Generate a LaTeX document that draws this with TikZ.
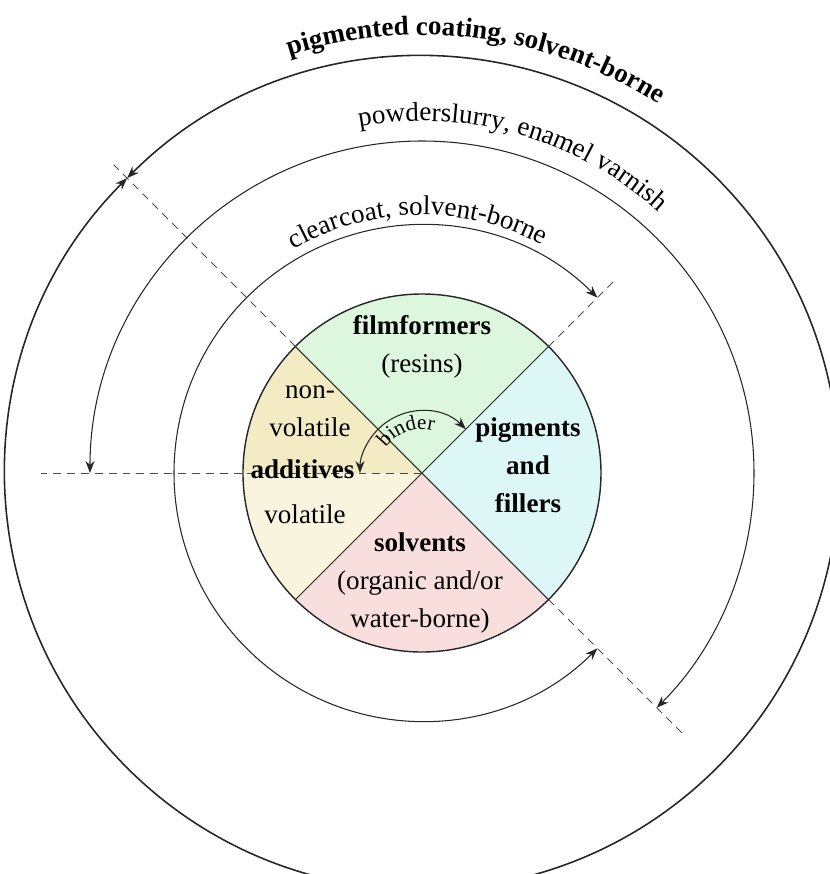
\documentclass[tikz,border=0pt]{standalone}
\usepackage{fontspec}
\setmainfont{Liberation Serif}
\usetikzlibrary{arrows.meta,decorations.text}

\definecolor{filmgreen}{RGB}{221,247,222}
\definecolor{pigmentcyan}{RGB}{220,247,246}
\definecolor{solventpink}{RGB}{248,222,221}
\definecolor{nonvolyellow}{RGB}{242,235,196}
\definecolor{volyellow}{RGB}{249,244,222}

\begin{document}
\begin{tikzpicture}[
    ring/.style={draw=black!85, line width=0.6pt},
    ringarrow/.style={ring, {Stealth[length=2.4mm,width=1.8mm]}-{Stealth[length=2.4mm,width=1.8mm]}},
    cutline/.style={draw=black!70, line width=0.5pt, dash pattern=on 4.5pt off 3.4pt},
    parttext/.style={font=\fontsize{15.4}{21.6}\selectfont, align=center, inner sep=0pt},
    ]
    \useasboundingbox (-8.44,-8.02) rectangle (8.16,9.46);
    \clip (-8.44,-8.02) rectangle (8.16,9.46);

    % sectors of the inner disc
    \fill[filmgreen] (0,0) -- (45:3.58) arc[start angle=45, end angle=135, radius=3.58] -- cycle;
    \fill[nonvolyellow] (0,0) -- (135:3.58) arc[start angle=135, end angle=180, radius=3.58] -- cycle;
    \fill[volyellow] (0,0) -- (180:3.58) arc[start angle=180, end angle=225, radius=3.58] -- cycle;
    \fill[solventpink] (0,0) -- (225:3.58) arc[start angle=225, end angle=315, radius=3.58] -- cycle;
    \fill[pigmentcyan] (0,0) -- (-45:3.58) arc[start angle=-45, end angle=45, radius=3.58] -- cycle;
    \draw[ring] (135:3.58) -- (-45:3.58);
    \draw[ring] (45:3.58) -- (225:3.58);
    \draw[ring, line width=0.8pt] (0,0) circle[radius=3.58];

    % cut lines
    \draw[cutline] (0,0) -- (180:7.62);
    \draw[cutline] (135:3.58) -- (135:8.72);
    \draw[cutline] (45:3.58) -- (45:5.48);
    \draw[cutline] (-45:3.58) -- (-45:7.42);

    % rings
    \draw[ringarrow] (45:1.24) arc[start angle=45, end angle=180, radius=1.24];
    \draw[ringarrow] (45:4.96) arc[start angle=45, end angle=315, radius=4.96];
    \draw[ringarrow] (180:6.64) arc[start angle=180, end angle=-45, radius=6.64];
    \draw[ringarrow, line width=0.9pt] (135:8.34) arc[start angle=135, end angle=-225, radius=8.34];

    % ring labels
    \path[decorate, decoration={text along path, text align=center,
        text={|\fontsize{12}{14}\selectfont|binder}}]
        (170:0.88) arc[start angle=170, end angle=50, radius=0.88];
    \path[decorate, decoration={text along path, text align=center,
        text={|\fontsize{15.4}{18}\selectfont|clearcoat, solvent-borne}}]
        (151:5.16) arc[start angle=151, end angle=31, radius=5.16];
    \path[decorate, decoration={text along path, text align=center,
        text={|\fontsize{15.4}{18}\selectfont|powderslurry, enamel varnish}}]
        (134:7.04) arc[start angle=134, end angle=14, radius=7.04];
    \path[decorate, decoration={text along path, text align=center,
        text={|\fontsize{15.4}{18}\selectfont\bfseries|pigmented coating, solvent-borne}}]
        (142.5:8.76) arc[start angle=142.5, end angle=22.5, radius=8.76];

    % sector labels
    \node[parttext] (film) at (0,2.53) {\textbf{filmformers}\\(resins)};
    \node[parttext, font=\fontsize{15.4}{21.6}\selectfont\bfseries] (pigm) at (2.12,0.15) {pigments\\and\\fillers};
    \node[parttext] (solv) at (-0.04,-2.2) {\textbf{solvents}\\(organic and/or\\water-borne)};
    \node[parttext] (nonvol) at (-2.24,1.23) {non-\\volatile};
    \node[parttext, font=\fontsize{15.4}{21.6}\selectfont\bfseries] (addit) at (-2.39,0.085) {additives};
    \node[parttext] (vol) at (-2.34,-0.815) {volatile};
\end{tikzpicture}
\end{document}
